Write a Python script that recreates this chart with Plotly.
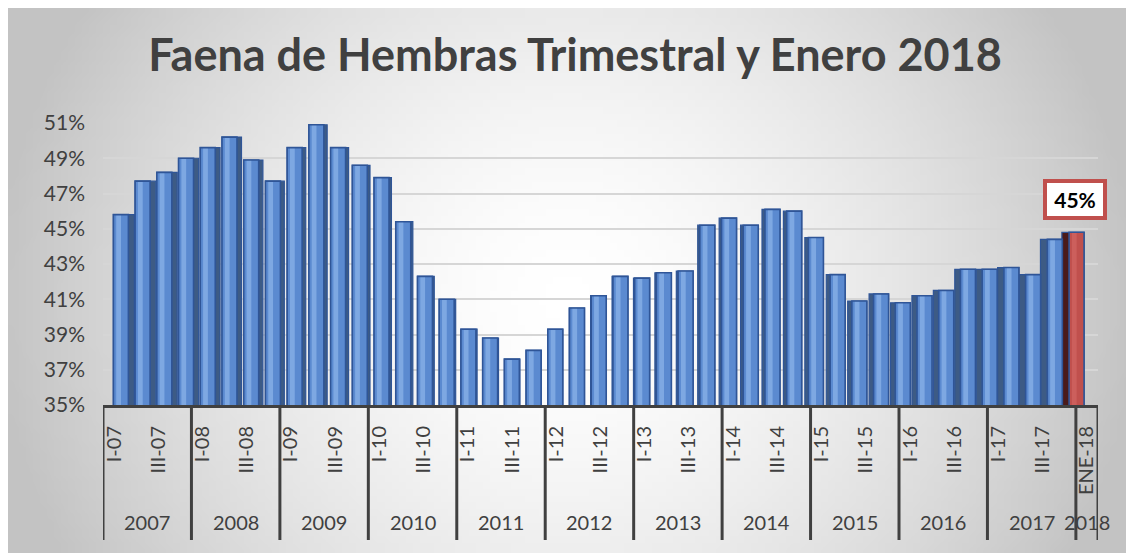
import math
import zlib
import struct
import base64
import plotly.graph_objects as go

# ---------------- data ----------------
periods = [
    "I-07", "II-07", "III-07", "IV-07",
    "I-08", "II-08", "III-08", "IV-08",
    "I-09", "II-09", "III-09", "IV-09",
    "I-10", "II-10", "III-10", "IV-10",
    "I-11", "II-11", "III-11", "IV-11",
    "I-12", "II-12", "III-12", "IV-12",
    "I-13", "II-13", "III-13", "IV-13",
    "I-14", "II-14", "III-14", "IV-14",
    "I-15", "II-15", "III-15", "IV-15",
    "I-16", "II-16", "III-16", "IV-16",
    "I-17", "II-17", "III-17", "IV-17",
    "ENE-18",
]
years = (["2007"] * 4 + ["2008"] * 4 + ["2009"] * 4 + ["2010"] * 4 +
         ["2011"] * 4 + ["2012"] * 4 + ["2013"] * 4 + ["2014"] * 4 +
         ["2015"] * 4 + ["2016"] * 4 + ["2017"] * 4 + ["2018"])
values = [
    45.8, 47.7, 48.2, 49.0,
    49.6, 50.2, 48.9, 47.7,
    49.6, 50.9, 49.6, 48.6,
    47.9, 45.4, 42.3, 41.0,
    39.3, 38.8, 37.6, 38.1,
    39.3, 40.5, 41.2, 42.3,
    42.2, 42.5, 42.6, 45.2,
    45.6, 45.2, 46.1, 46.0,
    44.5, 42.4, 40.9, 41.3,
    40.8, 41.2, 41.5, 42.7,
    42.7, 42.8, 42.4, 44.4,
    44.8,
]
y_ticks = [35, 37, 39, 41, 43, 45, 47, 49, 51]
title_text = "Faena de Hembras Trimestral y Enero 2018"

# ---------------- geometry (screen pixels, page has an 8px body margin) ----------------
O = 8
W, H = 1134 - O, 553 - O
PL, PR, PT, PB = 103 - O, 1098 - O, 123 - O, 405 - O     # plot area in figure px
PW, PH = PR - PL, PB - PT
FONT = "Lato"
TXT = "#404040"

def px_x(px):
    return (px - O - PL) / PW

def px_y(py):
    return (PB - (py - O)) / PH

n = len(values)
idx = list(range(n))
highlight = [p.startswith("ENE") for p in periods]

# perspective of bar axis (bars recede slightly vs. the label axis)
first_c, pitch = 121.0 - O, 21.72
bar_range = [(PL - first_c) / pitch, (PR - first_c) / pitch]

front_off, front_w = -0.35, 0.69
side_u = [0.30 * (20 - i) / pitch for i in idx]          # side-face width (units)
shadow_off = [front_off + min(0.0, s) for s in side_u]
shadow_w = [front_w + abs(s) for s in side_u]

front_col = ["#c0504d" if h else "#5b8ad0" for h in highlight]
stripe_col = ["#cc5f5c" if h else "#7ea8e2" for h in highlight]
side_col = ["#4a1a1a" if h else "#3d5b85" for h in highlight]
outline = "#2f5597"

# ---------------- background gradient image ----------------
def make_png(w, h, func):
    raw = bytearray()
    for j in range(h):
        raw.append(0)
        for i in range(w):
            v = func(i / (w - 1), j / (h - 1))
            raw += bytes((v, v, v))
    def chunk(tag, data):
        c = struct.pack(">I", len(data)) + tag + data
        return c + struct.pack(">I", zlib.crc32(tag + data) & 0xffffffff)
    png = b"\x89PNG\r\n\x1a\n"
    png += chunk(b"IHDR", struct.pack(">IIBBBBB", w, h, 8, 2, 0, 0, 0))
    png += chunk(b"IDAT", zlib.compress(bytes(raw), 9))
    png += chunk(b"IEND", b"")
    return "data:image/png;base64," + base64.b64encode(png).decode()

bg_sx0, bg_sy0 = 8, 8          # screen px of background top-left
bg_w, bg_h = 1134 - bg_sx0, 553 - bg_sy0

def grad(u, v):
    x = bg_sx0 + u * bg_w
    y = bg_sy0 + v * bg_h
    r = math.hypot((x - 567) / 575, (y - 300) / 560)
    r = min(1.0, r)
    return int(round(255 - 60 * r ** 1.6))

bg_src = make_png(160, 80, grad)

# ---------------- figure ----------------
fig = go.Figure()

fig.add_trace(go.Bar(x=idx, y=values, offset=shadow_off, width=shadow_w,
                     marker=dict(color=side_col, line=dict(color=outline, width=1.2)),
                     hoverinfo="skip", showlegend=False))
fig.add_trace(go.Bar(x=idx, y=values, offset=front_off, width=front_w,
                     marker=dict(color=front_col, line=dict(width=0)),
                     hoverinfo="skip", showlegend=False))
fig.add_trace(go.Bar(x=idx, y=values, offset=-0.22, width=0.22,
                     marker=dict(color=stripe_col, line=dict(width=0)),
                     hoverinfo="skip", showlegend=False))
fig.add_trace(go.Bar(x=idx, y=values, offset=front_off, width=front_w,
                     marker=dict(color="rgba(0,0,0,0)", line=dict(color=outline, width=1.6)),
                     hovertemplate="%{customdata}: %{y:.1f}%<extra></extra>",
                     customdata=periods, showlegend=False))
# invisible trace that carries the label axis
fig.add_trace(go.Scatter(x=idx, y=values, xaxis="x2", yaxis="y", mode="markers",
                         marker=dict(opacity=0), hoverinfo="skip", showlegend=False))

# tick labels: quarters I and III plus the January value
tick_idx = [i for i, p in enumerate(periods)
            if p.startswith("I-") or p.startswith("III-") or p.startswith("ENE")]
tick_txt = [periods[i] for i in tick_idx]

# year groups
groups = []
for i, yv in enumerate(years):
    if not groups or groups[-1][0] != yv:
        groups.append([yv, i, i])
    else:
        groups[-1][2] = i

shapes = []
bounds = sorted({g[1] - 0.5 for g in groups} | {g[2] + 0.5 for g in groups})
for b in bounds:
    shapes.append(dict(type="line", xref="x2", yref="paper", x0=b, x1=b,
                       y0=0, y1=px_y(540), line=dict(color=TXT, width=3)))

annotations = []
for yv, a, b in groups:
    annotations.append(dict(xref="x2", yref="paper", x=(a + b) / 2, y=px_y(522),
                            xanchor="center", yanchor="middle",
                            text=yv, showarrow=False,
                            font=dict(family=FONT, size=20, color=TXT)))

last = n - 1
annotations.append(dict(xref="x", yref="y", x=last, y=values[last],
                        text=f"{round(values[last])}%", showarrow=False,
                        yanchor="bottom", yshift=12, xshift=-2,
                        font=dict(family=FONT, size=21, color="black", weight="bold"),
                        bgcolor="white", bordercolor="#c0504d", borderwidth=4,
                        borderpad=4, width=48))

fig.update_layout(
    width=W, height=H,
    margin=dict(l=PL, r=W - PR, t=PT, b=H - PB, pad=0),
    paper_bgcolor="white",
    plot_bgcolor="rgba(0,0,0,0)",
    barmode="overlay",
    showlegend=False,
    title=dict(text=title_text, xref="container", yref="container",
               x=(575 - O) / W, y=1 - (55 - O) / H, xanchor="center", yanchor="middle",
               font=dict(family=FONT, size=45, color=TXT, weight="bold")),
    xaxis=dict(range=bar_range, showticklabels=False, showgrid=False,
               zeroline=False, showline=False, ticks=""),
    xaxis2=dict(range=[-0.5, n - 0.5], overlaying="x", anchor="y", side="bottom",
                tickmode="array", tickvals=tick_idx, ticktext=tick_txt,
                tickangle=-90, ticks="", ticklabelstandoff=10,
                tickfont=dict(family=FONT, size=20, color=TXT),
                showgrid=False, zeroline=False,
                showline=True, linecolor=TXT, linewidth=3),
    yaxis=dict(range=[y_ticks[0], y_ticks[-1]], tickmode="array", tickvals=y_ticks,
               ticktext=[f"{t}%" for t in y_ticks], ticks="", ticklabelstandoff=17,
               tickfont=dict(family=FONT, size=21, color=TXT),
               showgrid=True, gridcolor="#d6d6d6", gridwidth=2,
               zeroline=False, showline=False),
    shapes=shapes,
    annotations=annotations,
    images=[dict(source=bg_src, xref="paper", yref="paper",
                 x=px_x(bg_sx0), y=px_y(bg_sy0), sizex=bg_w / PW, sizey=bg_h / PH,
                 xanchor="left", yanchor="top", sizing="stretch", layer="below")],
)

fig.write_html("out.html")
